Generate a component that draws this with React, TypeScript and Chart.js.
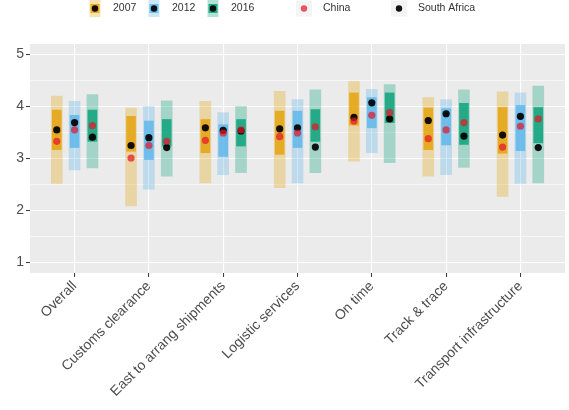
import { useEffect, useRef } from "react";
import { Chart, registerables } from "chart.js";

Chart.register(...registerables);

// LPI sub-indicators on the x axis
const categories = [
  "Overall",
  "Customs clearance",
  "East to arrang shipments",
  "Logistic services",
  "On time",
  "Track & trace",
  "Transport infrastructure",
];

const years = ["2007", "2012", "2016"];

// Full range of scores across countries (light bars)
const fullLow2007 = [2.52, 2.09, 2.53, 2.44, 2.95, 2.66, 2.27];
const fullHigh2007 = [4.2, 3.97, 4.1, 4.29, 4.48, 4.17, 4.28];
const fullLow2012 = [2.78, 2.41, 2.69, 2.53, 3.11, 2.69, 2.52];
const fullHigh2012 = [4.1, 4.0, 3.88, 4.13, 4.33, 4.13, 4.26];
const fullLow2016 = [2.82, 2.66, 2.73, 2.73, 2.92, 2.83, 2.53];
const fullHigh2016 = [4.23, 4.11, 4.0, 4.32, 4.42, 4.32, 4.39];

// Central range of scores (dark bars)
const coreLow2007 = [3.17, 3.14, 3.11, 3.08, 3.64, 3.17, 3.1];
const coreHigh2007 = [3.93, 3.81, 3.75, 3.91, 4.26, 3.97, 3.98];
const coreLow2012 = [3.21, 2.98, 3.04, 3.21, 3.59, 3.26, 3.15];
const coreHigh2012 = [3.83, 3.72, 3.65, 3.91, 4.17, 3.96, 4.02];
const coreLow2016 = [3.33, 3.24, 3.24, 3.33, 3.69, 3.27, 3.3];
const coreHigh2016 = [3.93, 3.75, 3.75, 3.94, 4.26, 4.06, 3.98];

// Country scores
const china2007 = [3.33, 3.01, 3.35, 3.42, 3.72, 3.38, 3.22];
const china2012 = [3.55, 3.25, 3.49, 3.49, 3.83, 3.55, 3.62];
const china2016 = [3.63, 3.33, 3.55, 3.61, 3.88, 3.69, 3.76];
const southAfrica2007 = [3.55, 3.25, 3.59, 3.57, 3.79, 3.73, 3.45];
const southAfrica2012 = [3.69, 3.4, 3.54, 3.59, 4.07, 3.86, 3.81];
const southAfrica2016 = [3.41, 3.21, 3.53, 3.22, 3.76, 3.43, 3.21];

// y axis grid values (major at integers, minor at halves)
const yGridValues = [1, 1.5, 2, 2.5, 3, 3.5, 4, 4.5, 5];

const yearRgb = ["230,159,0", "86,180,233", "0,158,115"];
const chinaColor = "rgba(228,22,40,0.72)";
const southAfricaColor = "rgba(0,0,0,0.92)";
const FONT = "'Liberation Sans', Arial, Helvetica, sans-serif";

const fullLow = [fullLow2007, fullLow2012, fullLow2016];
const fullHigh = [fullHigh2007, fullHigh2012, fullHigh2016];
const coreLow = [coreLow2007, coreLow2012, coreLow2016];
const coreHigh = [coreHigh2007, coreHigh2012, coreHigh2016];
const china = [china2007, china2012, china2016];
const southAfrica = [southAfrica2007, southAfrica2012, southAfrica2016];

// horizontal dodge of the three years within a category
const dodge = [-0.24, 0, 0.24];

const panelPlugin = {
  id: "panel",
  beforeDraw(chart: any) {
    const { ctx, chartArea: a, width, height } = chart;
    ctx.save();
    ctx.fillStyle = "#FFFFFF";
    ctx.fillRect(0, 0, width, height);
    ctx.fillStyle = "#EBEBEB";
    ctx.fillRect(a.left, a.top, a.right - a.left, a.bottom - a.top);
    ctx.restore();
  },
};

// legend layout: key centre x and label x for each entry
const legendLayout = [
  { key: 95, text: 113 },
  { key: 154, text: 172 },
  { key: 213, text: 231 },
  { key: 304, text: 323 },
  { key: 399, text: 418 },
];

const legendPlugin = {
  id: "topLegend",
  afterDraw(chart: any) {
    const ctx = chart.ctx;
    const cy = 8.5;
    ctx.save();
    ctx.font = `10.5px ${FONT}`;
    ctx.textBaseline = "middle";
    ctx.textAlign = "left";
    const entries = [
      ...years.map((y, k) => ({ label: y, rgb: yearRgb[k], dot: southAfricaColor })),
      { label: "China", rgb: null, dot: chinaColor },
      { label: "South Africa", rgb: null, dot: southAfricaColor },
    ];
    entries.forEach((e, i) => {
      const { key, text } = legendLayout[i];
      if (e.rgb) {
        ctx.fillStyle = `rgba(${e.rgb},0.3)`;
        ctx.fillRect(key - 5.5, cy - 8.5, 11, 17);
        ctx.fillStyle = `rgba(${e.rgb},0.8)`;
        ctx.fillRect(key - 4.5, cy - 4.5, 9, 9);
      } else {
        ctx.fillStyle = "#F4F4F4";
        ctx.fillRect(key - 8, cy - 8, 16, 16);
      }
      ctx.fillStyle = e.dot;
      ctx.beginPath();
      ctx.arc(key, cy, 3.2, 0, Math.PI * 2);
      ctx.fill();
      ctx.fillStyle = "#333333";
      ctx.fillText(e.label, text, cy);
    });
    ctx.restore();
  },
};

export default function App() {
  const canvasRef = useRef<HTMLCanvasElement | null>(null);

  useEffect(() => {
    if (!canvasRef.current) return;

    const datasets: any[] = [];
    years.forEach((year, k) => {
      datasets.push({
        type: "bar",
        label: `${year} full range`,
        data: categories.map((_, i) => ({ x: i + 1 + dodge[k], y: [fullLow[k][i], fullHigh[k][i]] })),
        backgroundColor: `rgba(${yearRgb[k]},0.3)`,
        borderWidth: 0,
        barThickness: 11,
        grouped: false,
        order: 5,
      });
      datasets.push({
        type: "bar",
        label: `${year} central range`,
        data: categories.map((_, i) => ({ x: i + 1 + dodge[k], y: [coreLow[k][i], coreHigh[k][i]] })),
        backgroundColor: `rgba(${yearRgb[k]},0.78)`,
        borderWidth: 0,
        barThickness: 9,
        grouped: false,
        order: 4,
      });
    });

    const points = (series: number[][]) =>
      years.flatMap((_, k) => categories.map((_, i) => ({ x: i + 1 + dodge[k], y: series[k][i] })));

    datasets.push({
      type: "scatter",
      label: "South Africa",
      data: points(southAfrica),
      pointRadius: 3.6,
      pointBorderWidth: 0,
      pointBackgroundColor: southAfricaColor,
      order: 3,
    });
    datasets.push({
      type: "scatter",
      label: "China",
      data: points(china),
      pointRadius: 3.6,
      pointBorderWidth: 0,
      pointBackgroundColor: chinaColor,
      order: 2,
    });

    const chart = new Chart(canvasRef.current, {
      type: "bar",
      data: { datasets },
      options: {
        responsive: false,
        animation: false,
        devicePixelRatio: 1,
        layout: { padding: { top: 44, left: 0, right: 0, bottom: 0 } },
        plugins: { legend: { display: false }, tooltip: { enabled: false } },
        scales: {
          x: {
            type: "linear",
            min: 0.4,
            max: 7.6,
            offset: false,
            afterBuildTicks: (s: any) => {
              s.ticks = categories.map((_, i) => ({ value: i + 1 }));
            },
            afterFit: (s: any) => {
              s.height = 137;
            },
            ticks: {
              callback: (v: any) => categories[Math.round(Number(v)) - 1] ?? "",
              minRotation: 45,
              maxRotation: 45,
              autoSkip: false,
              color: "#4D4D4D",
              font: { family: FONT, size: 14 },
              padding: 1,
            },
            grid: {
              offset: false,
              color: "#FFFFFF",
              lineWidth: 1.1,
              tickLength: 4,
              tickColor: "#333333",
              tickWidth: 1,
            },
            border: { display: false },
          },
          y: {
            type: "linear",
            min: 0.8,
            max: 5.2,
            afterBuildTicks: (s: any) => {
              s.ticks = yGridValues.map((v) => ({ value: v }));
            },
            afterFit: (s: any) => {
              s.width = 30;
            },
            ticks: {
              callback: (v: any) => (Number.isInteger(Number(v)) ? String(v) : ""),
              color: "#4D4D4D",
              font: { family: FONT, size: 14 },
              padding: 2,
            },
            grid: {
              color: "#FFFFFF",
              lineWidth: (c: any) => (c.tick && Number.isInteger(c.tick.value) ? 1.1 : 0.55),
              tickLength: 4,
              tickColor: (c: any) =>
                c.tick && Number.isInteger(c.tick.value) ? "#333333" : "rgba(0,0,0,0)",
              tickWidth: 1,
            },
            border: { display: false },
          },
        },
      } as any,
      plugins: [panelPlugin, legendPlugin],
    });

    return () => chart.destroy();
  }, []);

  return (
    <div style={{ position: "absolute", left: 0, top: 0, width: 569, height: 410, background: "#FFFFFF" }}>
      <canvas ref={canvasRef} width={569} height={410} />
    </div>
  );
}
